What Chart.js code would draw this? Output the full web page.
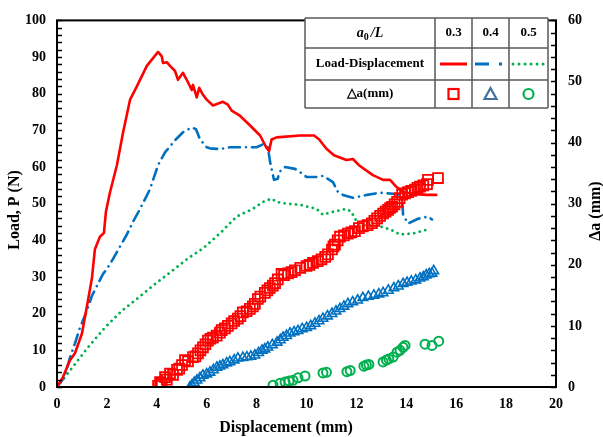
<!DOCTYPE html>
<html>
<head>
<meta charset="utf-8">
<script src="https://cdn.jsdelivr.net/npm/chart.js@4.4.1/dist/chart.umd.min.js"></script>
<style>
html, body { margin: 0; padding: 0; background: #fff; }
</style>
</head>
<body>
<canvas id="myChart" width="603" height="437"></canvas>
<script>
// Load-displacement curves (displacement mm, load N)
var disp03 = [0, 0.24, 0.52, 0.72, 1.0, 1.24, 1.4, 1.52, 1.72, 1.88, 1.96, 2.12, 2.4, 2.65, 2.93, 3.2, 3.6, 3.85, 4.05, 4.2, 4.25, 4.4, 4.53, 4.73, 4.85, 5.05, 5.2, 5.4, 5.45, 5.6, 5.7, 5.85, 6.0, 6.25, 6.65, 6.85, 7.0, 7.33, 7.73, 8.14, 8.4, 8.5, 8.6, 8.8, 9.74, 10.3, 10.5, 10.8, 11.1, 11.6, 11.86, 12.1, 12.66, 13.07, 13.35, 13.6, 13.87, 14.27, 14.8, 15.2]
var load03 = [0, 2.7, 7.3, 9.2, 14.6, 23.5, 29.7, 37.6, 41, 42, 47.8, 53, 60.5, 69.5, 78.4, 82, 87.6, 89.7, 91.4, 90.2, 88.4, 88.6, 87.6, 86.2, 83.8, 85.7, 83.8, 81, 82.4, 79, 81.6, 79.7, 78.4, 76.8, 77.8, 77, 75.4, 74, 71.4, 68.6, 65.2, 64.4, 67.5, 68.1, 68.6, 68.6, 67.6, 65, 63.2, 61.9, 62.2, 60.5, 57.8, 56.5, 56.5, 54.6, 53.2, 52.7, 52.4, 52.4]

var disp04 = [0, 0.3, 0.52, 0.72, 0.92, 1.2, 1.4, 1.64, 1.84, 2.0, 2.24, 2.53, 2.8, 3.05, 3.33, 3.73, 4.05, 4.33, 4.73, 5.05, 5.4, 5.57, 5.73, 6.0, 6.13, 6.53, 6.93, 7.45, 8.0, 8.26, 8.45, 8.55, 8.7, 8.85, 8.9, 9.14, 9.54, 9.86, 10.0, 10.4, 10.66, 11.06, 11.26, 11.46, 11.86, 12.42, 12.95, 13.47, 13.83, 13.87, 14.07, 14.47, 14.87, 15.03]
var load04 = [0, 2.7, 8, 11.9, 16.2, 20.8, 24.9, 28.1, 30.8, 32.2, 34.9, 38.4, 41.6, 45.1, 48.6, 54, 60.5, 64, 67.3, 69.5, 70.8, 70.3, 67.6, 65.4, 65.1, 64.9, 65.4, 65.4, 65.4, 66.2, 65.4, 61, 56.5, 56.8, 58.6, 60, 59.5, 58.1, 57.3, 57.3, 57.6, 55.9, 53.2, 52.4, 51.6, 52.4, 53, 52.7, 52.4, 47, 44.6, 45.9, 46.5, 45.7]

var disp05 = [0, 0.44, 1.24, 1.92, 2.6, 3.25, 3.93, 4.6, 5.25, 5.85, 6.53, 7.2, 7.85, 8.26, 8.6, 8.8, 9.2, 9.74, 10.4, 10.66, 11.06, 11.6, 11.8, 11.94, 12.14, 12.95, 13.35, 13.75, 14.27, 14.87]
var load05 = [0, 3.8, 10.8, 16.2, 20.8, 24.3, 28.1, 31.6, 35.1, 37.8, 41.9, 46.5, 48.6, 50.5, 51.4, 50.5, 50, 49.7, 48.6, 47, 47.8, 48.6, 47.8, 45.9, 44.3, 43.8, 43, 41.6, 41.9, 43]

// Crack growth (displacement mm, delta a mm)
var crackDisp03 = [4.05, 4.13, 4.2, 4.33, 4.4, 4.53, 4.65, 4.81, 4.9, 5.01, 5.13, 5.25, 5.45, 5.55, 5.65, 5.75, 5.85, 5.95, 6.05, 6.15, 6.25, 6.4, 6.53, 6.6, 6.73, 6.85, 7.0, 7.1, 7.25, 7.35, 7.45, 7.6, 7.73, 7.85, 7.93, 8.05, 8.15, 8.33, 8.43, 8.53, 8.65, 8.74, 8.85, 9.0, 9.1, 9.26, 9.4, 9.54, 9.75, 10.0, 10.12, 10.26, 10.45, 10.6, 10.75, 10.86, 11.02, 11.08, 11.14, 11.25, 11.34, 11.5, 11.66, 11.8, 11.94, 12.1, 12.26, 12.45, 12.62, 12.72, 12.83, 12.95, 13.07, 13.17, 13.27, 13.35, 13.43, 13.53, 13.63, 13.73, 13.83, 13.95, 14.07, 14.2, 14.35, 14.45, 14.55, 14.68, 14.83, 14.87, 15.27]
var crackDa03 = [0.2, 0.8, 0.5, 1.6, 1.2, 2.2, 2.0, 2.8, 3.0, 3.6, 4.4, 4.2, 4.9, 5.0, 5.5, 6.0, 6.5, 7.0, 7.6, 7.9, 8.1, 8.4, 8.9, 9.3, 9.6, 10.0, 10.4, 10.8, 11.2, 11.6, 12.2, 12.4, 12.8, 13.2, 13.6, 14.4, 14.8, 15.4, 15.8, 16.2, 16.6, 17.0, 17.6, 18.5, 18.3, 18.6, 18.8, 19.1, 19.5, 19.8, 20.0, 20.3, 20.6, 20.9, 21.3, 21.7, 22.5, 23.0, 23.3, 24.0, 24.6, 24.8, 25.1, 25.3, 25.5, 26.0, 26.3, 26.5, 26.8, 27.2, 27.6, 28.0, 28.4, 28.7, 29.0, 29.3, 29.5, 29.9, 30.3, 30.9, 31.5, 31.7, 31.9, 32.1, 32.3, 32.6, 32.8, 33.0, 33.2, 33.9, 34.2]

var crackDisp04 = [5.33, 5.41, 5.5, 5.61, 5.73, 5.85, 6.0, 6.13, 6.27, 6.41, 6.53, 6.65, 6.8, 6.93, 7.1, 7.25, 7.45, 7.61, 7.77, 7.93, 8.08, 8.22, 8.33, 8.45, 8.63, 8.82, 8.95, 9.06, 9.2, 9.34, 9.5, 9.66, 9.83, 10.0, 10.17, 10.34, 10.5, 10.66, 10.84, 11.02, 11.18, 11.34, 11.5, 11.66, 11.85, 12.05, 12.26, 12.48, 12.7, 12.9, 13.07, 13.28, 13.5, 13.68, 13.87, 14.03, 14.2, 14.38, 14.55, 14.68, 14.8, 14.92, 15.03, 15.1]
var crackDa04 = [0.0, 0.3, 0.7, 1.1, 1.5, 1.9, 2.1, 2.4, 2.8, 3.2, 3.4, 3.6, 3.9, 4.1, 4.4, 4.7, 4.8, 4.9, 5.0, 5.2, 5.6, 6.0, 6.2, 6.5, 6.9, 7.3, 7.7, 8.1, 8.4, 8.8, 9.0, 9.2, 9.5, 9.7, 10.0, 10.4, 10.8, 11.2, 11.6, 12.0, 12.4, 12.8, 13.2, 13.6, 13.9, 14.2, 14.6, 14.8, 15.0, 15.2, 15.4, 15.8, 16.2, 16.5, 16.9, 17.1, 17.3, 17.5, 17.8, 18.0, 18.3, 18.5, 18.6, 19.0]

var crackDisp05 = [8.66, 8.94, 9.14, 9.3, 9.46, 9.66, 9.94, 10.66, 10.8, 11.62, 11.75, 12.3, 12.4, 12.5, 13.07, 13.2, 13.3, 13.47, 13.63, 13.75, 13.87, 13.95, 14.75, 15.03, 15.3]
var crackDa05 = [0.3, 0.6, 0.8, 1.0, 1.1, 1.5, 1.8, 2.3, 2.4, 2.5, 2.7, 3.4, 3.6, 3.7, 4.1, 4.4, 4.6, 4.9, 5.7, 6.0, 6.5, 6.8, 7.0, 6.8, 7.5]

var ratioLabels = ['0.3', '0.4', '0.5']

function pts(xs, ys) {
    return xs.map(function (x, i) { return { x: x, y: ys[i] } })
}

var red = '#FF0000'
var blue = '#0070C0'
var green = '#00B050'
var serif = '"Liberation Serif", "Times New Roman", serif'

var tickFont = { family: serif, size: 14, weight: 'bold' }

var decor = {
    id: 'decor',
    afterDatasetsDraw: function (chart) {
        var ctx = chart.ctx, a = chart.chartArea, s = chart.scales
        ctx.save()
        // frame
        ctx.strokeStyle = '#000'
        ctx.lineWidth = 2
        ctx.strokeRect(a.left, a.top, a.right - a.left, a.bottom - a.top)
        // inside ticks
        ctx.lineWidth = 1.5
        ctx.beginPath()
        for (var v = 0; v <= 100; v += 2) {
            var y = Math.round(s.y.getPixelForValue(v)) + 0.5
            ctx.moveTo(a.left, y); ctx.lineTo(a.left + 5, y)
        }
        for (var w = 0; w <= 60; w += 2) {
            var y1 = Math.round(s.y1.getPixelForValue(w)) + 0.5
            ctx.moveTo(a.right - 5, y1); ctx.lineTo(a.right, y1)
        }
        ctx.stroke()

        // legend table
        var cols = [305, 435, 472, 509, 548]
        var rows = [18, 48, 80, 108]
        ctx.fillStyle = '#fff'
        ctx.fillRect(cols[0], rows[0], cols[4] - cols[0], rows[3] - rows[0])
        ctx.strokeStyle = '#595959'
        ctx.lineWidth = 1.5
        ctx.beginPath()
        cols.forEach(function (c) { ctx.moveTo(c, rows[0]); ctx.lineTo(c, rows[3]) })
        rows.forEach(function (r) { ctx.moveTo(cols[0], r); ctx.lineTo(cols[4], r) })
        ctx.stroke()

        var cx0 = (cols[0] + cols[1]) / 2
        var mids = [(cols[1] + cols[2]) / 2, (cols[2] + cols[3]) / 2, (cols[3] + cols[4]) / 2]
        var r1 = (rows[0] + rows[1]) / 2, r2 = (rows[1] + rows[2]) / 2, r3 = (rows[2] + rows[3]) / 2
        ctx.fillStyle = '#000'
        ctx.textBaseline = 'middle'

        // a0/L header
        var fIt = 'italic bold 14px ' + serif
        var fSub = 'bold 10px ' + serif
        ctx.font = fIt; var wa = ctx.measureText('a').width; var wl = ctx.measureText('/L').width
        ctx.font = fSub; var w0 = ctx.measureText('0').width
        var sx = cx0 - (wa + w0 + 2 + wl) / 2
        ctx.textAlign = 'left'
        ctx.font = fIt; ctx.fillText('a', sx, r1)
        ctx.font = fSub; ctx.fillText('0', sx + wa, r1 + 4)
        ctx.font = fIt; ctx.fillText('/L', sx + wa + w0 + 2, r1)

        ctx.textAlign = 'center'
        ctx.font = 'bold 13px ' + serif
        ratioLabels.forEach(function (t, i) { ctx.fillText(t, mids[i], r1) })
        ctx.fillText('Load-Displacement', cx0, r2)
        ctx.fillText('\u25B3a(mm)', cx0, r3)

        // line samples
        ctx.lineWidth = 3
        ctx.strokeStyle = red
        ctx.beginPath(); ctx.moveTo(440, r2); ctx.lineTo(467, r2); ctx.stroke()
        ctx.strokeStyle = blue
        ctx.beginPath(); ctx.moveTo(475, r2); ctx.lineTo(489, r2); ctx.moveTo(499, r2); ctx.lineTo(502, r2); ctx.stroke()
        ctx.strokeStyle = green
        ctx.lineCap = 'round'
        ctx.setLineDash([0.01, 6])
        ctx.beginPath(); ctx.moveTo(513, r2); ctx.lineTo(548, r2); ctx.stroke()
        ctx.setLineDash([])
        ctx.lineCap = 'butt'

        // markers
        ctx.lineWidth = 2.2
        ctx.strokeStyle = red
        ctx.strokeRect(mids[0] - 5, r3 - 5, 10, 10)
        ctx.strokeStyle = '#41719C'
        ctx.beginPath(); ctx.moveTo(mids[1], r3 - 6); ctx.lineTo(mids[1] + 6, r3 + 5); ctx.lineTo(mids[1] - 6, r3 + 5); ctx.closePath(); ctx.stroke()
        ctx.strokeStyle = green
        ctx.beginPath(); ctx.arc(mids[2], r3, 5, 0, Math.PI * 2); ctx.stroke()
        ctx.restore()
    },
    afterDraw: function (chart) {
        var ctx = chart.ctx
        ctx.save()
        ctx.fillStyle = '#000'
        ctx.font = 'bold 16px ' + serif
        ctx.textAlign = 'center'
        ctx.textBaseline = 'middle'
        ctx.fillText('Displacement (mm)', 286, 428)
        ctx.translate(15, 210); ctx.rotate(-Math.PI / 2)
        ctx.fillText('Load, P (N)', 0, 0)
        ctx.restore()
        ctx.save()
        ctx.fillStyle = '#000'
        ctx.font = 'bold 16px ' + serif
        ctx.textAlign = 'center'
        ctx.textBaseline = 'middle'
        ctx.translate(596, 211); ctx.rotate(-Math.PI / 2)
        ctx.fillText('\u0394a (mm)', 0, 0)
        ctx.restore()
    }
}

function crackSet(label, xs, ys, color, style, radius, bw) {
    return {
        label: label, data: pts(xs, ys), yAxisID: 'y1', showLine: false,
        pointStyle: style, pointRadius: radius, pointBorderWidth: bw,
        borderColor: color, backgroundColor: 'rgba(0,0,0,0)'
    }
}

function loadSet(label, xs, ys, color, dash, width) {
    return {
        label: label, data: pts(xs, ys), yAxisID: 'y', showLine: true,
        borderColor: color, backgroundColor: color, borderWidth: width,
        borderDash: dash, borderCapStyle: 'round', borderJoinStyle: 'round',
        pointRadius: 0, tension: 0
    }
}

const ctx = document.getElementById('myChart')

new Chart(ctx, {
    type: 'scatter',
    data: {
        datasets: [
            crackSet('Δa 0.3', crackDisp03, crackDa03, red, 'rect', 7, 1.8),
            crackSet('Δa 0.4', crackDisp04, crackDa04, blue, 'triangle', 5.5, 1.6),
            crackSet('Δa 0.5', crackDisp05, crackDa05, green, 'circle', 4.5, 2),
            loadSet('0.3', disp03, load03, red, [], 2.6),
            loadSet('0.4', disp04, load04, blue, [11, 6, 0.01, 6], 2.6),
            loadSet('0.5', disp05, load05, green, [0.01, 5.7], 2.8)
        ]
    },
    options: {
        responsive: false,
        animation: false,
        devicePixelRatio: 1,
        layout: { padding: { top: 17, left: 0, right: 0, bottom: 0 } },
        plugins: { legend: { display: false }, tooltip: { enabled: false } },
        scales: {
            x: {
                type: 'linear', min: 0, max: 20,
                ticks: { stepSize: 2, padding: 9, font: tickFont, color: '#000' },
                grid: { display: false, drawTicks: false },
                border: { display: false },
                afterFit: function (s) { s.height = 50 }
            },
            y: {
                position: 'left', min: 0, max: 100,
                ticks: { stepSize: 10, padding: 11, font: tickFont, color: '#000' },
                grid: { display: false, drawTicks: false },
                border: { display: false },
                afterFit: function (s) { s.width = 57 }
            },
            y1: {
                position: 'right', min: 0, max: 60,
                ticks: { stepSize: 10, padding: 12, font: tickFont, color: '#000' },
                grid: { display: false, drawTicks: false },
                border: { display: false },
                afterFit: function (s) { s.width = 47 }
            }
        }
    },
    plugins: [decor]
})
</script>
</body>
</html>
